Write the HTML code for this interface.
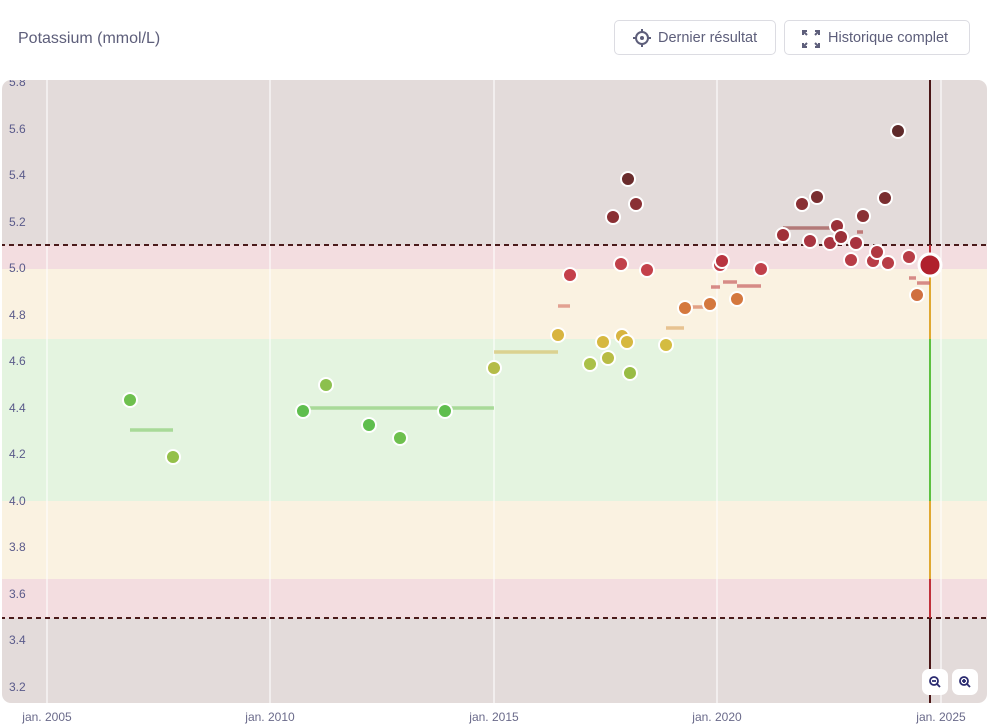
<!DOCTYPE html>
<html><head><meta charset="utf-8"><style>
body{margin:0;background:#fff;width:988px;height:727px;overflow:hidden;font-family:"Liberation Sans",sans-serif}
.t{position:absolute;left:18px;top:30px;font-size:16px;color:#5d5e7a}
.b{position:absolute;top:20px;height:35px;border:1px solid #dcdce2;border-radius:5px;box-sizing:border-box;font-size:14.5px;color:#5d5e7a;line-height:35px;padding-left:43px}
</style></head><body>
<div class="t">Potassium (mmol/L)</div>
<div class="b" style="left:614px;width:162px">Dernier résultat
<svg style="position:absolute;left:18px;top:8px" width="18" height="18" viewBox="0 0 18 18"><circle cx="9" cy="9" r="6" fill="none" stroke="#5d5e7a" stroke-width="2"/><circle cx="9" cy="9" r="2" fill="#5d5e7a"/><path d="M9 0v3M9 15v3M0 9h3M15 9h3" stroke="#5d5e7a" stroke-width="2"/></svg></div>
<div class="b" style="left:784px;width:186px">Historique complet
<svg style="position:absolute;left:17px;top:9px" width="18" height="18" viewBox="0 0 18 18" fill="none" stroke="#5d5e7a" stroke-width="2"><path d="M1 5V1h4M1 1l4 4M13 1h4v4M17 1l-4 4M1 13v4h4M1 17l4-4M13 17h4v-4M17 17l-4-4"/></svg></div>
<svg style="position:absolute;left:0;top:0" width="988" height="727">
<defs><clipPath id="c"><rect x="2" y="80" width="985" height="623" rx="9"/></clipPath></defs>
<g clip-path="url(#c)">
<rect x="0" y="0" width="988" height="727" fill="#e3dbda"/>
<rect x="0" y="245" width="988" height="24" fill="#f3dde0"/>
<rect x="0" y="269" width="988" height="70" fill="#faf2e1"/>
<rect x="0" y="339" width="988" height="162" fill="#e4f4e0"/>
<rect x="0" y="501" width="988" height="78" fill="#faf2e1"/>
<rect x="0" y="579" width="988" height="39" fill="#f3dde0"/>
<g stroke="#fff" stroke-width="1.2" opacity="0.9"><line x1="47" y1="80" x2="47" y2="703"/><line x1="270" y1="80" x2="270" y2="703"/><line x1="494" y1="80" x2="494" y2="703"/><line x1="717" y1="80" x2="717" y2="703"/><line x1="941" y1="80" x2="941" y2="703"/></g>
<g font-size="12" fill="#5a5a8a" dominant-baseline="middle">
<text x="9" y="83">5.8</text><text x="9" y="130">5.6</text><text x="9" y="176">5.4</text><text x="9" y="223">5.2</text><text x="9" y="269">5.0</text><text x="9" y="316">4.8</text><text x="9" y="362">4.6</text><text x="9" y="409">4.4</text><text x="9" y="455">4.2</text><text x="9" y="502">4.0</text><text x="9" y="548">3.8</text><text x="9" y="595">3.6</text><text x="9" y="641">3.4</text><text x="9" y="688">3.2</text></g>
<g stroke="#4a1a1a" stroke-width="2" stroke-dasharray="5,4"><line x1="0" y1="245" x2="988" y2="245"/><line x1="0" y1="618" x2="988" y2="618"/></g>
<g stroke-width="2"><line x1="930" y1="80" x2="930" y2="245" stroke="#4a1616"/><line x1="930" y1="245" x2="930" y2="269" stroke="#c0303a"/><line x1="930" y1="269" x2="930" y2="339" stroke="#e0a830"/><line x1="930" y1="339" x2="930" y2="501" stroke="#5cc040"/><line x1="930" y1="501" x2="930" y2="579" stroke="#e0a830"/><line x1="930" y1="579" x2="930" y2="618" stroke="#c0303a"/><line x1="930" y1="618" x2="930" y2="703" stroke="#4a1616"/></g>
<g stroke-width="3.5" opacity="0.7">
<line x1="130" y1="430" x2="173" y2="430" stroke="#8fd07a"/>
<line x1="303" y1="408" x2="494" y2="408" stroke="#8fd07a"/>
<line x1="494" y1="352" x2="558" y2="352" stroke="#d8c470"/>
<line x1="558" y1="306" x2="570" y2="306" stroke="#d88070"/>
<line x1="666" y1="328" x2="684" y2="328" stroke="#e0b070"/>
<line x1="692" y1="307" x2="705" y2="307" stroke="#d88060"/>
<line x1="711" y1="287" x2="720" y2="287" stroke="#c86060"/>
<line x1="723" y1="282" x2="737" y2="282" stroke="#c86060"/>
<line x1="737" y1="286" x2="761" y2="286" stroke="#c86060"/>
<line x1="783" y1="228" x2="830" y2="228" stroke="#a05050"/>
<line x1="857" y1="232" x2="863" y2="232" stroke="#b05050"/>
<line x1="909" y1="278" x2="916" y2="278" stroke="#c86060"/>
<line x1="917" y1="283" x2="930" y2="283" stroke="#c86060"/>
</g>
<g stroke="#fff" stroke-width="2">
<circle cx="130" cy="400" r="7" fill="#6ec04e"/><circle cx="173" cy="457" r="7" fill="#94c04a"/>
<circle cx="303" cy="411" r="7" fill="#5fbe4e"/><circle cx="326" cy="385" r="7" fill="#8cc04e"/><circle cx="369" cy="425" r="7" fill="#5fbe4e"/><circle cx="400" cy="438" r="7" fill="#6ec04e"/><circle cx="445" cy="411" r="7" fill="#5fbe4e"/>
<circle cx="494" cy="368" r="7" fill="#b4bc48"/>
<circle cx="558" cy="335" r="7" fill="#d8b440"/><circle cx="570" cy="275" r="7" fill="#c4404a"/>
<circle cx="590" cy="364" r="7" fill="#aac048"/><circle cx="603" cy="342" r="7" fill="#d6b840"/><circle cx="608" cy="358" r="7" fill="#b8bc44"/><circle cx="630" cy="373" r="7" fill="#98bc44"/>
<circle cx="622" cy="336" r="7" fill="#d8b440"/><circle cx="627" cy="342" r="7" fill="#d6b840"/>
<circle cx="613" cy="217" r="7" fill="#8a3034"/><circle cx="621" cy="264" r="7" fill="#c0404a"/><circle cx="628" cy="179" r="7" fill="#6a2c2c"/><circle cx="636" cy="204" r="7" fill="#8a3034"/><circle cx="647" cy="270" r="7" fill="#c4404a"/>
<circle cx="666" cy="345" r="7" fill="#d4bc40"/><circle cx="685" cy="308" r="7" fill="#d4783e"/><circle cx="710" cy="304" r="7" fill="#d4783e"/><circle cx="720" cy="265" r="7" fill="#c0404a"/><circle cx="722" cy="261" r="7" fill="#b83440"/><circle cx="737" cy="299" r="7" fill="#d4783e"/><circle cx="761" cy="269" r="7" fill="#c0404a"/>
<circle cx="783" cy="235" r="7" fill="#a03038"/><circle cx="802" cy="204" r="7" fill="#8a3034"/><circle cx="817" cy="197" r="7" fill="#7a2e30"/><circle cx="810" cy="241" r="7" fill="#a83440"/><circle cx="830" cy="243" r="7" fill="#a83440"/><circle cx="837" cy="226" r="7" fill="#9a3038"/><circle cx="841" cy="237" r="7" fill="#9a3038"/><circle cx="851" cy="260" r="7" fill="#b83c46"/><circle cx="856" cy="243" r="7" fill="#a83440"/><circle cx="863" cy="216" r="7" fill="#8a3034"/><circle cx="873" cy="261" r="7" fill="#b83c46"/><circle cx="877" cy="252" r="7" fill="#b03840"/><circle cx="885" cy="198" r="7" fill="#7a2e30"/><circle cx="888" cy="263" r="7" fill="#b83c46"/><circle cx="898" cy="131" r="7" fill="#5e2a2a"/><circle cx="909" cy="257" r="7" fill="#b83c46"/><circle cx="917" cy="295" r="7" fill="#d07040"/>
<circle cx="930" cy="265" r="11" fill="#b0202c" stroke-width="3"/>
</g>
<g><rect x="922" y="669" width="26" height="26" rx="7" fill="#fff"/><rect x="952" y="669" width="26" height="26" rx="7" fill="#fff"/>
<g stroke="#2a2a70" stroke-width="1.8" fill="none"><circle cx="934" cy="681" r="4"/><path d="M937 684l3 3M932 681h4"/><circle cx="964" cy="681" r="4"/><path d="M967 684l3 3M962 681h4M964 679v4"/></g></g>
</g>
<g font-size="12" fill="#6a6a8a" text-anchor="middle"><text x="47" y="721">jan. 2005</text><text x="270" y="721">jan. 2010</text><text x="494" y="721">jan. 2015</text><text x="717" y="721">jan. 2020</text><text x="941" y="721">jan. 2025</text></g>
</svg>
</body></html>
